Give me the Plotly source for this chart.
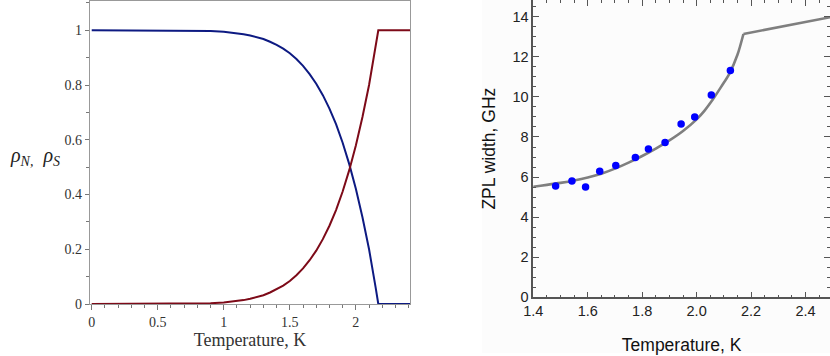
import plotly.graph_objects as go

# ---- Left panel: normal / superfluid fractions ----
T_left = [0, 0.3, 0.6, 0.7, 0.8, 0.9, 1.0, 1.05, 1.1, 1.15, 1.2, 1.25, 1.3, 1.35, 1.4,
          1.45, 1.5, 1.55, 1.6, 1.65, 1.7, 1.75, 1.8, 1.85, 1.9, 1.95, 2.0, 2.05, 2.1,
          2.15, 2.17, 2.41]
rho_N = [0, 0, 0.0002, 0.0005, 0.0013, 0.0027, 0.0056, 0.0077, 0.0106, 0.0142, 0.019,
         0.025, 0.032, 0.042, 0.053, 0.067, 0.084, 0.105, 0.130, 0.160, 0.195, 0.237,
         0.286, 0.343, 0.411, 0.489, 0.579, 0.683, 0.800, 0.940, 1.0, 1.0]
rho_S = [1, 1, 0.9998, 0.9995, 0.9987, 0.9973, 0.9944, 0.9923, 0.9894, 0.9858, 0.981,
         0.975, 0.968, 0.958, 0.947, 0.933, 0.916, 0.895, 0.870, 0.840, 0.805, 0.763,
         0.714, 0.657, 0.589, 0.511, 0.421, 0.317, 0.200, 0.060, 0, 0]

# ---- Right panel: ZPL width ----
T_meas = [1.482, 1.542, 1.592, 1.644, 1.703, 1.775, 1.823, 1.884, 1.943, 1.993, 2.054, 2.124]
zpl_meas = [5.55, 5.80, 5.50, 6.29, 6.58, 6.98, 7.40, 7.72, 8.65, 9.00, 10.10, 11.32]

# model curve below T_lambda (smooth) and above it (straight)
T_fit_low = [1.38, 1.4, 1.45, 1.5, 1.55, 1.6, 1.65, 1.7, 1.75, 1.8, 1.85, 1.9, 1.95, 2.0,
             2.03, 2.06, 2.09, 2.12, 2.15, 2.172]
zpl_fit_low = [5.48, 5.52, 5.61, 5.71, 5.83, 5.98, 6.17, 6.42, 6.72, 7.05, 7.42, 7.83, 8.30,
               8.88, 9.33, 9.88, 10.50, 11.15, 12.10, 13.14]
T_fit_high = [2.172, 2.5]
zpl_fit_high = [13.14, 14.0]

left_xticks = [0, 0.5, 1, 1.5, 2]
left_yticks = [0, 0.2, 0.4, 0.6, 0.8, 1]
right_xticks = [1.4, 1.6, 1.8, 2.0, 2.2, 2.4]
right_yticks = [0, 2, 4, 6, 8, 10, 12, 14]

W, H = 830, 356

fig = go.Figure()
fig.add_trace(go.Scatter(x=T_left, y=rho_S, mode="lines", line=dict(color="#0d1a82", width=2),
                         xaxis="x", yaxis="y", showlegend=False))
fig.add_trace(go.Scatter(x=T_left, y=rho_N, mode="lines", line=dict(color="#7d0a18", width=2),
                         xaxis="x", yaxis="y", showlegend=False))
fig.add_trace(go.Scatter(x=T_fit_low, y=zpl_fit_low, mode="lines",
                         line=dict(color="#7f7f7f", width=2.6, shape="spline", smoothing=0.8),
                         xaxis="x2", yaxis="y2", showlegend=False))
fig.add_trace(go.Scatter(x=T_fit_high, y=zpl_fit_high, mode="lines",
                         line=dict(color="#7f7f7f", width=2.6),
                         xaxis="x2", yaxis="y2", showlegend=False))
fig.add_trace(go.Scatter(x=T_meas, y=zpl_meas, mode="markers",
                         marker=dict(color="#0000ff", size=7.5, line=dict(width=0)),
                         xaxis="x2", yaxis="y2", showlegend=False))

serif = "Liberation Serif, Times New Roman, serif"
sans = "Liberation Sans, Arial, sans-serif"

fig.update_layout(
    width=W, height=H,
    margin=dict(l=0, r=0, t=0, b=0, autoexpand=False),
    paper_bgcolor="white", plot_bgcolor="rgba(0,0,0,0)",
    xaxis=dict(domain=[90 / W, 410 / W], range=[-0.013, 2.41], anchor="y", automargin=False,
               tickvals=left_xticks, ticks="outside", ticklen=5, tickcolor="#777",
               minor=dict(dtick=0.1, tick0=0, ticks="outside", ticklen=3, tickcolor="#777"),
               showline=True, linecolor="#999", linewidth=1.3, mirror=True,
               showgrid=False, zeroline=False,
               tickfont=dict(family=serif, size=14, color="#333"),
               title=dict(text="Temperature, K", font=dict(family=serif, size=18, color="#333"),
                          standoff=4)),
    yaxis=dict(domain=[(H - 304) / H, (H - 1) / H], range=[0, 1.107], anchor="x", automargin=False,
               tickvals=left_yticks, ticks="outside", ticklen=4, tickcolor="#777",
               minor=dict(dtick=0.1, tick0=0, ticks="outside", ticklen=3, tickcolor="#777"),
               showline=True, linecolor="#999", linewidth=1.3, mirror=True,
               showgrid=False, zeroline=False,
               tickfont=dict(family=serif, size=14, color="#333")),
    xaxis2=dict(domain=[533.3 / W, 1], range=[1.4, 2.49], anchor="y2", automargin=False,
                tickvals=right_xticks, tickformat=".1f", ticks="inside", ticklen=6,
                tickcolor="#555", mirror="ticks",
                minor=dict(dtick=0.05, tick0=1.4, ticks="inside", ticklen=3, tickcolor="#555"),
                showline=True, linecolor="#555", linewidth=1.5,
                showgrid=False, zeroline=False,
                tickfont=dict(family=sans, size=14.5, color="#222"),
                title=dict(text="Temperature, K", font=dict(family=sans, size=17.5, color="#111"),
                           standoff=20)),
    yaxis2=dict(domain=[(H - 297.3) / H, 1], range=[0, 14.835], anchor="x2", automargin=False,
                tickvals=right_yticks, ticks="inside", ticklen=6, tickcolor="#555", mirror="ticks",
                minor=dict(dtick=0.5, tick0=0, ticks="inside", ticklen=3, tickcolor="#555"),
                showline=True, linecolor="#555", linewidth=1.5,
                showgrid=False, zeroline=False,
                tickfont=dict(family=sans, size=14.5, color="#222"),
                title=dict(text="ZPL width, GHz", font=dict(family=sans, size=17.5, color="#111"),
                           standoff=12)),
    shapes=[dict(type="rect", xref="paper", yref="paper", x0=482 / W, x1=1, y0=3 / H, y1=1,
                 fillcolor="#fcfcfc", line=dict(width=0), layer="below")],
    annotations=[dict(text="<i>ρ<sub>N,</sub>  ρ<sub>S</sub></i>", xref="paper", yref="paper",
                      x=8 / W, y=(H - 156) / H, xanchor="left", yanchor="middle",
                      showarrow=False, font=dict(family=serif, size=20, color="#222"))],
)

fig.write_html("out.html", config={"displayModeBar": False},
               post_script="document.body.style.margin='0';")
